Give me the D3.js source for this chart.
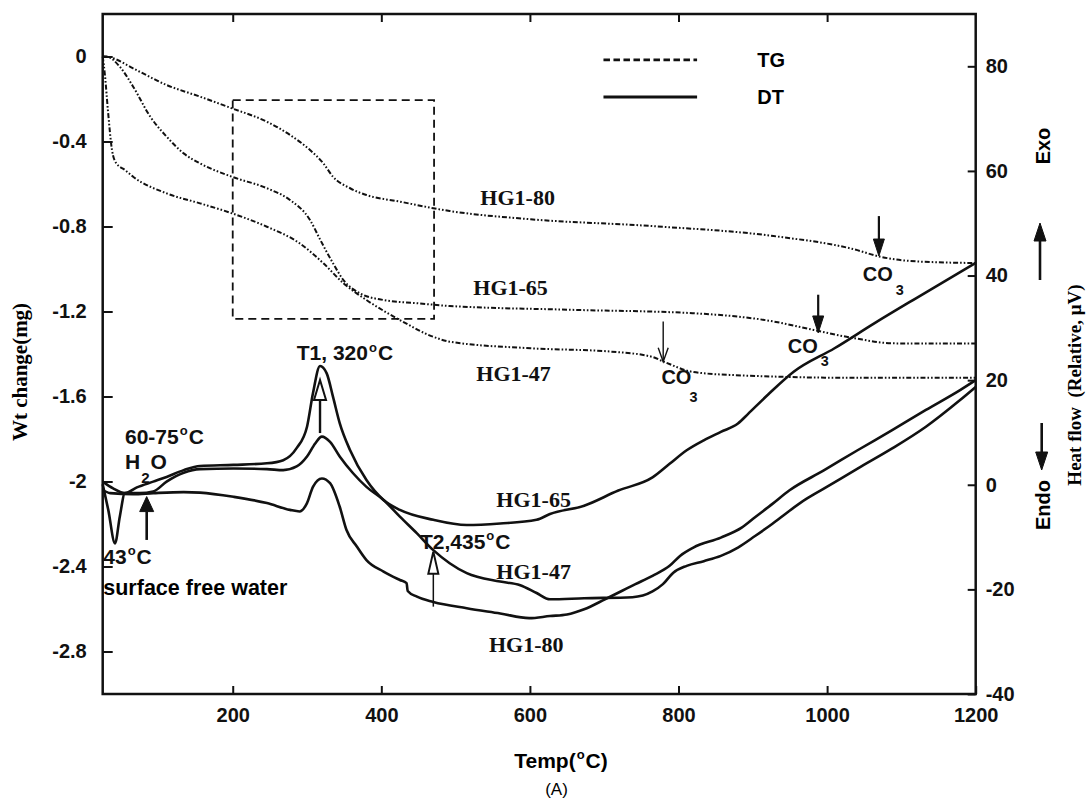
<!DOCTYPE html>
<html>
<head>
<meta charset="utf-8">
<script src="https://cdn.jsdelivr.net/npm/d3@7"></script>
<style>
  html, body { margin: 0; padding: 0; background: #fff; }
  svg { display: block; }
  .sans { font-family: "Liberation Sans", Arial, sans-serif; font-weight: bold; }
  .serif { font-family: "Liberation Serif", "Times New Roman", serif; font-weight: bold; }
</style>
</head>
<body>
<svg id="chart" width="1086" height="806"></svg>
<script>
// ---------------- DATA ----------------
// Axis ticks
const xTickValues = [200, 400, 600, 800, 1000, 1200];
const xTickLabels = ["200", "400", "600", "800", "1000", "1200"];
const leftTickValues = [0, -0.4, -0.8, -1.2, -1.6, -2, -2.4, -2.8];
const leftTickLabels = ["0", "-0.4", "-0.8", "-1.2", "-1.6", "-2", "-2.4", "-2.8"];
const rightTickValues = [80, 60, 40, 20, 0, -20, -40];
const rightTickLabels = ["80", "60", "40", "20", "0", "-20", "-40"];

// TG curves (Wt change, mg; left axis)
const tg80Temp = [25, 35, 66, 111, 156, 199, 246, 277, 304, 322, 335, 358, 380, 425, 470, 492, 601, 764, 928, 1037, 1070, 1119, 1200];
const tg80Wt   = [0, -0.004, -0.056, -0.134, -0.189, -0.244, -0.307, -0.369, -0.44, -0.503, -0.566, -0.62, -0.652, -0.683, -0.714, -0.727, -0.766, -0.798, -0.845, -0.908, -0.941, -0.964, -0.972];

const tg65Temp = [25, 30, 48, 66, 89, 111, 134, 156, 199, 246, 277, 304, 318, 335, 349, 371, 403, 448, 492, 656, 819, 928, 982, 1037, 1091, 1200];
const tg65Wt   = [0, 0, -0.048, -0.142, -0.283, -0.377, -0.456, -0.503, -0.566, -0.62, -0.675, -0.769, -0.864, -0.973, -1.052, -1.114, -1.146, -1.161, -1.174, -1.192, -1.208, -1.247, -1.287, -1.326, -1.35, -1.35];

const tg47Temp = [25, 28, 32, 37.5, 43, 55, 66, 111, 156, 199, 246, 290, 322, 349, 380, 425, 470, 492, 601, 710, 764, 780, 819, 873, 1037, 1200];
const tg47Wt   = [0, -0.087, -0.252, -0.44, -0.501, -0.534, -0.566, -0.644, -0.691, -0.738, -0.801, -0.879, -0.973, -1.067, -1.146, -1.24, -1.319, -1.342, -1.373, -1.389, -1.413, -1.436, -1.484, -1.499, -1.512, -1.512];

// DT curves (Heat flow, relative µV; right axis)
const dt65Temp = [25, 39, 55, 71, 93, 111, 134, 156, 201, 246, 268, 286, 300, 308, 317.5, 326.5, 335, 344, 358, 380, 403, 425, 470, 515, 560, 609, 627, 673, 719, 765, 788, 811, 834, 857, 880, 894, 921, 955, 1010, 1064, 1119, 1200];
const dt65Flow = [0.6, -0.7, -1.6, -0.5, 0.6, 1.5, 2.8, 3.6, 3.8, 4.1, 4.7, 7.0, 11.1, 17.5, 22.7, 21.3, 16.8, 11.8, 6.6, 0.9, -2.9, -4.8, -6.7, -7.7, -7.4, -6.7, -5.6, -4.0, -1.1, 1.4, 4.0, 6.6, 8.5, 10.1, 11.7, 13.6, 17.3, 21.6, 26.1, 30.9, 35.6, 42.4];

const dt47Temp = [25, 32.5, 41.6, 48, 55, 75, 93, 111, 134, 156, 201, 246, 268, 286, 300, 311, 320, 331, 344, 362, 380, 403, 425, 448, 470, 492, 515, 560, 587, 609, 627, 673, 738, 765, 779, 793, 811, 834, 857, 880, 903, 926, 949, 972, 995, 1041, 1087, 1133, 1179, 1200];
const dt47Flow = [0.1, -4.8, -11.2, -6.1, -1.6, -1.6, -1.3, 0.6, 2.3, 3.0, 3.1, 3.0, 2.8, 3.5, 5.4, 7.9, 9.2, 8.2, 5.4, 2.2, -0.4, -2.9, -6.1, -9.3, -12.5, -15.0, -16.9, -18.5, -19.2, -20.7, -21.9, -21.7, -21.5, -20.4, -19.0, -16.8, -15.5, -14.6, -13.6, -12.0, -9.8, -7.5, -5.0, -2.7, -0.8, 3.1, 6.9, 11.1, 16.2, 18.7];

const dt80Temp = [25, 35, 66, 93, 134, 156, 201, 246, 277, 290, 300, 308, 320, 331, 344, 353, 367, 380, 403, 425, 434, 435.5, 448, 470, 515, 560, 599, 627, 650, 673, 701, 742, 765, 788, 802, 820, 857, 885, 903, 926, 949, 995, 1041, 1087, 1133, 1179, 1200];
const dt80Flow = [-1.0, -1.6, -1.8, -1.6, -1.4, -1.5, -2.3, -3.5, -4.8, -5.1, -3.5, -0.4, 1.2, 0.3, -4.2, -8.6, -11.8, -14.4, -16.6, -18.2, -18.8, -20.3, -21.4, -22.4, -23.6, -24.6, -25.5, -25.1, -24.8, -23.8, -21.9, -19.0, -17.4, -15.5, -13.6, -12.0, -10.1, -8.2, -6.2, -3.7, -1.1, 2.7, 6.6, 10.4, 14.3, 18.1, 20.0];

const seriesNames = ["HG1-80", "HG1-65", "HG1-47"];

// ---------------- CHART ----------------
const svg = d3.select("#chart");
const X0 = 102.7, X1 = 975.7, Y0 = 14, Y1 = 694;

const x  = d3.scaleLinear().domain([25, 1200]).range([X0, X1]);
const yL = d3.scaleLinear().domain([-3, 0.2]).range([Y1, Y0]);
const yR = d3.scaleLinear().domain([-40, 90]).range([Y1, Y0]);

const zip = (a, b) => a.map((t, i) => [t, b[i]]);

// zoom-region dashed box (T 200-471, Wt -0.205 .. -1.235)
const boxT = [200, 471], boxW = [-0.205, -1.235];
svg.append("rect")
  .attr("x", x(boxT[0])).attr("y", yL(boxW[0]))
  .attr("width", x(boxT[1]) - x(boxT[0])).attr("height", yL(boxW[1]) - yL(boxW[0]))
  .attr("fill", "none").attr("stroke", "#111").attr("stroke-width", 1.8)
  .attr("stroke-dasharray", "8,5");

// TG lines
const tgLine = d3.line().x(d => x(d[0])).y(d => yL(d[1])).curve(d3.curveMonotoneX);
[[tg80Temp, tg80Wt], [tg65Temp, tg65Wt], [tg47Temp, tg47Wt]].forEach(([t, w]) => {
  svg.append("path").attr("d", tgLine(zip(t, w)))
    .attr("fill", "none").attr("stroke", "#111").attr("stroke-width", 2)
    .attr("stroke-dasharray", "5,2,1.6,2,1.6,2");
});

// DT lines
const dtLine = d3.line().x(d => x(d[0])).y(d => yR(d[1])).curve(d3.curveMonotoneX);
[[dt65Temp, dt65Flow], [dt47Temp, dt47Flow], [dt80Temp, dt80Flow]].forEach(([t, f]) => {
  svg.append("path").attr("d", dtLine(zip(t, f)))
    .attr("fill", "none").attr("stroke", "#111").attr("stroke-width", 2.6)
    .attr("stroke-linejoin", "round");
});

// ---------------- AXES ----------------
function styleAxis(g, fs) {
  g.select(".domain").remove();
  g.selectAll(".tick line").attr("stroke", "#111").attr("stroke-width", 2);
  g.selectAll(".tick text").attr("class", "sans").attr("font-size", fs).attr("fill", "#111");
}
svg.append("g").attr("transform", `translate(0,${Y1})`)
  .call(d3.axisBottom(x).tickValues(xTickValues).tickFormat((d, i) => xTickLabels[i])
    .tickSizeInner(-8).tickSizeOuter(0).tickPadding(14))
  .call(g => styleAxis(g, 20));
svg.append("g").attr("transform", `translate(0,${Y0})`)
  .call(d3.axisTop(x).tickValues(xTickValues.slice(0, 5)).tickFormat("")
    .tickSizeInner(-8).tickSizeOuter(0))
  .call(g => styleAxis(g, 20));
svg.append("g").attr("transform", `translate(${X0},0)`)
  .call(d3.axisLeft(yL).tickValues(leftTickValues).tickFormat((d, i) => leftTickLabels[i])
    .tickSizeInner(-10).tickSizeOuter(0).tickPadding(16))
  .call(g => styleAxis(g, 20));
svg.append("g").attr("transform", `translate(${X1},0)`)
  .call(d3.axisRight(yR).tickValues(rightTickValues).tickFormat((d, i) => rightTickLabels[i])
    .tickSizeInner(-8).tickSizeOuter(0).tickPadding(10))
  .call(g => styleAxis(g, 20));

// frame
svg.append("rect").attr("x", X0).attr("y", Y0).attr("width", X1 - X0).attr("height", Y1 - Y0)
  .attr("fill", "none").attr("stroke", "#111").attr("stroke-width", 2.5);

// ---------------- TEXT HELPERS ----------------
function degText(cx, cy, pre, post, fs, anchor) {
  const t = svg.append("text").attr("class", "sans").attr("font-size", fs)
    .attr("x", cx).attr("y", cy).attr("dy", "0.36em").attr("text-anchor", anchor || "start").attr("fill", "#111");
  t.append("tspan").text(pre);
  t.append("tspan").attr("font-size", fs * 0.62).attr("dy", -fs * 0.42).attr("dx", 1).text("o");
  t.append("tspan").attr("dy", fs * 0.42).attr("dx", 1).text(post);
  return t;
}
function subText(cx, cy, main, sub, fs, dx, dy, tail) {
  const t = svg.append("text").attr("class", "sans").attr("font-size", fs)
    .attr("x", cx).attr("y", cy).attr("dy", "0.36em").attr("fill", "#111");
  t.append("tspan").text(main);
  t.append("tspan").attr("font-size", fs * 0.72).attr("dx", dx).attr("dy", dy).text(sub);
  if (tail) t.append("tspan").attr("dx", dx).attr("dy", -dy).text(tail);
  return t;
}
function serifLabel(cx, cy, s) {
  svg.append("text").attr("class", "serif").attr("font-size", 22).attr("fill", "#111")
    .attr("x", cx).attr("y", cy).attr("dy", "0.34em").attr("text-anchor", "middle").text(s);
}

// arrows: vertical, tail (x,y1) -> tip (x,y2)
function arrow(px, py1, py2, opts) {
  const o = Object.assign({ head: "filled", hl: 16, hw: 11, sw: 2.2 }, opts || {});
  const dir = py2 < py1 ? -1 : 1;
  const base = py2 - dir * o.hl;
  svg.append("line").attr("x1", px).attr("x2", px).attr("y1", py1)
    .attr("y2", o.head === "open" ? py2 : base).attr("stroke", "#111").attr("stroke-width", o.sw);
  if (o.head === "open") {
    svg.append("path").attr("d", `M${px - o.hw / 2},${base} L${px},${py2} L${px + o.hw / 2},${base}`)
      .attr("fill", "none").attr("stroke", "#111").attr("stroke-width", o.sw);
  } else {
    svg.append("path").attr("d", `M${px - o.hw / 2},${base} L${px},${py2} L${px + o.hw / 2},${base} Z`)
      .attr("fill", o.head === "hollow" ? "#fff" : "#111").attr("stroke", "#111")
      .attr("stroke-width", o.head === "hollow" ? 2 : 1).attr("stroke-linejoin", "miter");
  }
}

// ---------------- LEGEND ----------------
svg.append("line").attr("x1", x(699)).attr("x2", x(825)).attr("y1", yL(-0.016)).attr("y2", yL(-0.016))
  .attr("stroke", "#111").attr("stroke-width", 2.6).attr("stroke-dasharray", "6.5,3.5");
svg.append("line").attr("x1", x(699)).attr("x2", x(825)).attr("y1", yL(-0.191)).attr("y2", yL(-0.191))
  .attr("stroke", "#111").attr("stroke-width", 3);
svg.append("text").attr("class", "sans").attr("font-size", 20).attr("x", x(906)).attr("y", yL(-0.016))
  .attr("dy", "0.36em").text("TG");
svg.append("text").attr("class", "sans").attr("font-size", 20).attr("x", x(906)).attr("y", yL(-0.191))
  .attr("dy", "0.36em").text("DT");

// ---------------- SERIES LABELS ----------------
serifLabel(x(583.5), yL(-0.664), seriesNames[0]);
serifLabel(x(574), yL(-1.085), seriesNames[1]);
serifLabel(x(578), yL(-1.494), seriesNames[2]);
serifLabel(x(605), yL(-2.087), seriesNames[1]);
serifLabel(x(605), yL(-2.424), seriesNames[2]);
serifLabel(x(595), yL(-2.769), seriesNames[0]);

// ---------------- ANNOTATIONS ----------------
degText(x(351), yL(-1.395), "T1, 320", "C", 21, "middle");
degText(x(55), yL(-1.786), "60-75", "C", 21);
subText(x(55), yL(-1.904), "H", "2", 21, 1, 14, "O");
degText(x(25.8), yL(-2.351), "43", "C", 21);
svg.append("text").attr("class", "sans").attr("font-size", 21.5).attr("x", x(25.8)).attr("y", yL(-2.496))
  .attr("dy", "0.36em").text("surface free water");
degText(x(452), yL(-2.283), "T2,435", "C", 21);

// CO3 labels
subText(x(1048), yL(-1.021), "CO", "3", 20, 3, 14);
subText(x(947), yL(-1.36), "CO", "3", 20, 3, 13);
subText(x(777), yL(-1.505), "CO", "3", 20, -2, 18);

// arrows
arrow(x(1069.7), yL(-0.751), yL(-0.939), { hl: 17, hw: 11, sw: 2.2 });
arrow(x(988), yL(-1.121), yL(-1.301), { hl: 17, hw: 11, sw: 2.2 });
arrow(x(779.4), yL(-1.247), yL(-1.436), { head: "open", hl: 14, hw: 10, sw: 1.4 });
arrow(x(317.5), yL(-1.772), yL(-1.522), { head: "hollow", hl: 20, hw: 12, sw: 2.4 });
arrow(x(84.2), yL(-2.275), yL(-2.071), { hl: 15, hw: 14, sw: 2.6 });
arrow(x(470), yL(-2.589), yL(-2.33), { head: "hollow", hl: 22, hw: 10, sw: 1.5 });

// right side: Exo / Endo
svg.append("text").attr("class", "sans").attr("font-size", 20)
  .attr("transform", `translate(${X1 + 67},146) rotate(-90)`)
  .attr("text-anchor", "middle").attr("dy", "0.36em").text("Exo");
svg.append("text").attr("class", "sans").attr("font-size", 20)
  .attr("transform", `translate(${X1 + 67},505) rotate(-90)`)
  .attr("text-anchor", "middle").attr("dy", "0.36em").text("Endo");
arrow(X1 + 64.3, 280, 223, { hl: 18, hw: 12, sw: 2.6 });
arrow(X1 + 66, 423, 470, { hl: 18, hw: 12, sw: 2.6 });

// axis titles
svg.append("text").attr("class", "serif").attr("font-size", 19)
  .attr("transform", `translate(${X1 + 99},385) rotate(-90)`)
  .attr("text-anchor", "middle").attr("dy", "0.34em").style("white-space", "pre")
  .text("Heat flow  (Relative, \u03BCV)");
svg.append("text").attr("class", "serif").attr("font-size", 21)
  .attr("transform", `translate(20,372) rotate(-90)`)
  .attr("text-anchor", "middle").attr("dy", "0.34em").text("Wt change(mg)");

const tt = svg.append("text").attr("class", "sans").attr("font-size", 21)
  .attr("x", 561).attr("y", 768).attr("text-anchor", "middle");
tt.append("tspan").text("Temp(");
tt.append("tspan").attr("font-size", 13).attr("dy", -9).attr("dx", 1).text("o");
tt.append("tspan").attr("dy", 9).attr("dx", 1).text("C)");

svg.append("text").attr("font-family", "Liberation Sans, Arial, sans-serif").attr("font-size", 17)
  .attr("x", 556.5).attr("y", 795).attr("text-anchor", "middle").text("(A)");
</script>
</body>
</html>
